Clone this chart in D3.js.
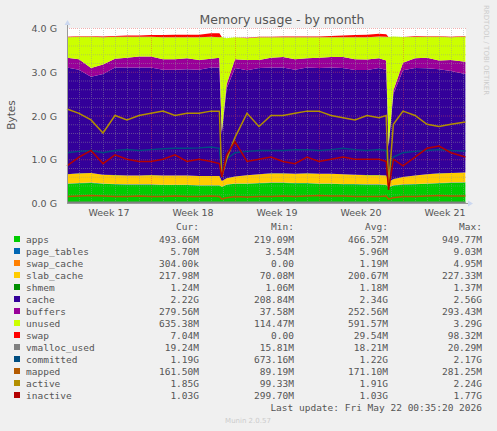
<!DOCTYPE html>
<html><head><meta charset="utf-8">
<script src="https://cdn.jsdelivr.net/npm/d3@7"></script>
<style>body{margin:0;background:#f0f0f0}svg{display:block}</style>
</head><body><svg width="497" height="431"></svg>
<script>
// time in days since start of plot
var days = [0,1,2,3,4,5,6,7,8,9,10,11,12,12.7,12.9,13.3,14,15,16,17,18,19,20,21,22,23,24,25,26,26.6,26.8,27.2,28,29,30,31,32,33.2];
// values in G
var apps      = [0.44,0.45,0.46,0.44,0.43,0.42,0.42,0.42,0.41,0.41,0.41,0.4,0.4,0.4,0.37,0.42,0.44,0.44,0.45,0.46,0.46,0.45,0.45,0.44,0.44,0.43,0.43,0.42,0.42,0.41,0.36,0.4,0.42,0.43,0.44,0.45,0.46,0.47];
var pageTables= [0.006,0.006,0.006,0.006,0.006,0.006,0.006,0.006,0.006,0.006,0.006,0.006,0.006,0.006,0.004,0.005,0.006,0.006,0.006,0.006,0.006,0.006,0.006,0.006,0.006,0.006,0.006,0.006,0.006,0.006,0.004,0.005,0.006,0.006,0.006,0.006,0.006,0.006];
var swapCache = [0.001,0.001,0.001,0.001,0.001,0.001,0.001,0.001,0.001,0.001,0.001,0.001,0.001,0.001,0,0,0,0,0.001,0.001,0.001,0.001,0.001,0.001,0.001,0.001,0.001,0.001,0.001,0.001,0,0,0,0,0.001,0.001,0.001,0.001];
var slabCache = [0.21,0.22,0.22,0.2,0.2,0.2,0.2,0.21,0.21,0.21,0.21,0.21,0.21,0.21,0.13,0.14,0.16,0.19,0.2,0.21,0.21,0.21,0.22,0.22,0.22,0.22,0.21,0.21,0.21,0.21,0.12,0.14,0.17,0.19,0.21,0.22,0.22,0.22];
var shmem     = [0.001,0.001,0.001,0.001,0.001,0.001,0.001,0.001,0.001,0.001,0.001,0.001,0.001,0.001,0.001,0.001,0.001,0.001,0.001,0.001,0.001,0.001,0.001,0.001,0.001,0.001,0.001,0.001,0.001,0.001,0.001,0.001,0.001,0.001,0.001,0.001,0.001,0.001];
var cache     = [2.44,2.37,2.2,2.3,2.46,2.47,2.47,2.46,2.42,2.42,2.43,2.43,2.48,2.48,1.08,2.05,2.48,2.4,2.43,2.42,2.42,2.38,2.42,2.42,2.43,2.43,2.39,2.4,2.45,2.41,0.8,1.95,2.44,2.46,2.42,2.38,2.33,2.25];
var buffers   = [0.22,0.24,0.2,0.22,0.2,0.22,0.25,0.25,0.24,0.24,0.25,0.22,0.2,0.22,0.05,0.1,0.2,0.23,0.18,0.22,0.24,0.24,0.21,0.23,0.24,0.25,0.25,0.24,0.22,0.22,0.04,0.08,0.17,0.22,0.24,0.2,0.25,0.28];
var unused    = [0.47,0.51,0.71,0.62,0.5,0.48,0.45,0.45,0.5,0.5,0.48,0.52,0.5,0.47,2.16,1.05,0.5,0.5,0.52,0.47,0.45,0.5,0.48,0.47,0.45,0.45,0.5,0.51,0.5,0.54,2.47,1.23,0.59,0.49,0.48,0.54,0.52,0.58];
var swap      = [0.012,0.012,0.015,0.02,0.02,0.03,0.03,0.04,0.05,0.06,0.06,0.06,0.08,0.09,0,0,0,0.012,0.012,0.012,0.015,0.015,0.02,0.02,0.03,0.04,0.05,0.06,0.06,0.06,0,0,0,0.012,0.012,0.012,0.012,0.012];
var vmalloc   = [0.019,0.019,0.019,0.019,0.019,0.019,0.019,0.019,0.018,0.018,0.018,0.018,0.018,0.018,0.016,0.017,0.018,0.018,0.018,0.018,0.018,0.018,0.018,0.018,0.018,0.018,0.018,0.018,0.018,0.018,0.016,0.017,0.018,0.018,0.018,0.019,0.019,0.019];
var committed = [1.15,1.18,1.2,1.15,1.2,1.22,1.2,1.22,1.24,1.25,1.25,1.26,1.28,1.25,0.7,1.0,1.15,1.18,1.2,1.2,1.2,1.22,1.22,1.2,1.22,1.25,1.22,1.2,1.22,1.2,0.68,1.05,1.15,1.18,1.2,1.22,1.2,1.19];
var mapped    = [0.15,0.16,0.17,0.16,0.15,0.15,0.16,0.15,0.15,0.16,0.15,0.15,0.16,0.15,0.09,0.12,0.15,0.14,0.15,0.15,0.16,0.15,0.16,0.17,0.16,0.16,0.15,0.15,0.15,0.16,0.09,0.12,0.15,0.15,0.16,0.17,0.16,0.16];
var active    = [2.15,2.05,1.9,1.6,2.0,1.9,2.0,2.05,2.1,2.0,2.05,2.05,2.1,2.1,0.6,1.0,1.5,2.05,1.75,2.0,2.0,2.05,2.1,2.1,2.0,1.95,1.9,2.0,1.95,2.0,0.4,1.8,2.1,2.0,1.8,1.75,1.8,1.85];
var inactive  = [0.85,1.05,1.2,0.9,1.1,1.0,0.95,0.95,1.0,1.1,0.95,1.0,0.95,0.9,0.6,1.1,1.4,0.95,1.0,1.05,0.95,0.9,1.05,0.95,1.0,1.05,1.0,1.0,1.0,0.95,0.3,1.0,0.85,1.05,1.25,1.3,1.15,1.05];

var weekLabels = ["Week 17","Week 18","Week 19","Week 20","Week 21"];
var yTicks = [0,1,2,3,4];

var legend = [
  ["apps","#00cc00","493.66M","219.09M","466.52M","949.77M"],
  ["page_tables","#0066b3","5.70M","3.54M","5.96M","9.03M"],
  ["swap_cache","#ff8000","304.00k","0.00","1.19M","4.95M"],
  ["slab_cache","#ffcc00","217.98M","70.08M","200.67M","227.33M"],
  ["shmem","#008f00","1.24M","1.06M","1.18M","1.37M"],
  ["cache","#330099","2.22G","208.84M","2.34G","2.56G"],
  ["buffers","#990099","279.56M","37.58M","252.56M","293.43M"],
  ["unused","#ccff00","635.38M","114.47M","591.57M","3.29G"],
  ["swap","#ff0000","7.04M","0.00","29.54M","98.32M"],
  ["vmalloc_used","#808080","19.24M","15.81M","18.21M","20.29M"],
  ["committed","#004d80","1.19G","673.16M","1.22G","2.17G"],
  ["mapped","#b35a00","161.50M","89.19M","171.10M","281.25M"],
  ["active","#b38f00","1.85G","99.33M","1.91G","2.24G"],
  ["inactive","#b30000","1.03G","299.70M","1.03G","1.77G"]
];

var svg = d3.select("svg");
var pl = 67, pr = 466, pt = 28, pb = 203;
var x = d3.scaleLinear().domain([0, 33.25]).range([pl, pr]);
var y = d3.scaleLinear().domain([0, 4]).range([pb, pt]);

svg.append("rect").attr("x", pl).attr("y", pt).attr("width", pr-pl).attr("height", pb-pt).attr("fill", "#fff");

// stacked areas
var stackSeries = [apps, pageTables, swapCache, slabCache, shmem, cache, buffers, unused, swap];
var rows = days.map(function(d, i) {
  var r = {t: d};
  stackSeries.forEach(function(s, k) { r[k] = s[i]; });
  return r;
});
var stacked = d3.stack().keys(d3.range(stackSeries.length))(rows);
var area = d3.area().x(function(d) { return x(d.data.t); }).y0(function(d) { return y(d[0]); }).y1(function(d) { return y(d[1]); });
svg.append("g").selectAll("path").data(stacked).join("path")
  .attr("d", area).attr("fill", function(d, i) { return legend[i][1]; });

// grid drawn over areas like rrdtool
var g = svg.append("g").attr("opacity", 0.45);
d3.range(0, 4.01, 0.2).forEach(function(v) {
  var major = Math.abs(v - Math.round(v)) < 1e-6;
  g.append("line").attr("x1", pl).attr("x2", pr).attr("y1", y(v)+0.5).attr("y2", y(v)+0.5)
    .attr("stroke", major ? "#e05050" : "#999").attr("stroke-dasharray", "1,1");
});
d3.range(0, 34).forEach(function(d) {
  g.append("line").attr("y1", pt).attr("y2", pb).attr("x1", x(d)+0.5).attr("x2", x(d)+0.5)
    .attr("stroke", d % 7 == 0 ? "#e05050" : "#999").attr("stroke-dasharray", "1,1");
});

// lines
var lineSeries = [[vmalloc,9],[committed,10],[mapped,11],[active,12],[inactive,13]];
var line = d3.line().x(function(d, i) { return x(days[i]); }).y(function(d) { return y(d); });
lineSeries.forEach(function(ls) {
  svg.append("path").attr("d", line(ls[0])).attr("fill", "none")
    .attr("stroke", legend[ls[1]][1]).attr("stroke-width", 1.5);
});

// axes
svg.append("line").attr("x1", pl).attr("x2", pr+6).attr("y1", pb+0.5).attr("y2", pb+0.5).attr("stroke", "#999");
svg.append("line").attr("x1", pl+0.5).attr("x2", pl+0.5).attr("y1", pb).attr("y2", pt-6).attr("stroke", "#999");
svg.append("path").attr("d", "M"+(pr+7)+","+(pb+0.5)+"l-5,-3v6z").attr("fill", "#ccd8f0");
svg.append("path").attr("d", "M"+(pl+0.5)+","+(pt-8)+"l-3,5h6z").attr("fill", "#ccd8f0");

var font = "DejaVu Sans";
yTicks.forEach(function(v) {
  svg.append("text").attr("x", 57).attr("y", y(v)+4).attr("text-anchor", "end")
    .attr("font-family", font).attr("font-size", 9.5).attr("fill", "#555").text(v.toFixed(1) + " G");
});
weekLabels.forEach(function(w, i) {
  svg.append("text").attr("x", x(3.5 + 7*i)).attr("y", 216).attr("text-anchor", "middle")
    .attr("font-family", font).attr("font-size", 9.5).attr("fill", "#555").text(w);
});
svg.append("text").attr("x", 282).attr("y", 24).attr("text-anchor", "middle")
  .attr("font-family", font).attr("font-size", 12.5).attr("fill", "#555").text("Memory usage - by month");
svg.append("text").attr("transform", "translate(15,115) rotate(-90)").attr("text-anchor", "middle")
  .attr("font-family", font).attr("font-size", 10.5).attr("fill", "#555").text("Bytes");
svg.append("text").attr("transform", "translate(484,5) rotate(90)")
  .attr("font-family", font).attr("font-size", 7).attr("fill", "#ccc").text("RRDTOOL / TOBI OETIKER");

// legend
var mono = "DejaVu Sans Mono";
var colX = [199, 294, 388, 482];
["Cur:","Min:","Avg:","Max:"].forEach(function(h, i) {
  svg.append("text").attr("x", colX[i]).attr("y", 230).attr("text-anchor", "end")
    .attr("font-family", mono).attr("font-size", 9.5).attr("fill", "#555").text(h);
});
legend.forEach(function(r, i) {
  var yy = 243 + i*12;
  svg.append("rect").attr("x", 14).attr("y", yy-7).attr("width", 6).attr("height", 6).attr("fill", r[1]);
  svg.append("text").attr("x", 26).attr("y", yy).attr("font-family", mono).attr("font-size", 9.5).attr("fill", "#555").text(r[0]);
  for (var k = 0; k < 4; k++) {
    svg.append("text").attr("x", colX[k]).attr("y", yy).attr("text-anchor", "end")
      .attr("font-family", mono).attr("font-size", 9.5).attr("fill", "#555").text(r[k+2]);
  }
});
svg.append("text").attr("x", 482).attr("y", 411).attr("text-anchor", "end")
  .attr("font-family", mono).attr("font-size", 9.5).attr("fill", "#555").text("Last update: Fri May 22 00:35:20 2026");
svg.append("text").attr("x", 248).attr("y", 423).attr("text-anchor", "middle")
  .attr("font-family", font).attr("font-size", 7).attr("fill", "#ccc").text("Munin 2.0.57");
</script></body></html>
